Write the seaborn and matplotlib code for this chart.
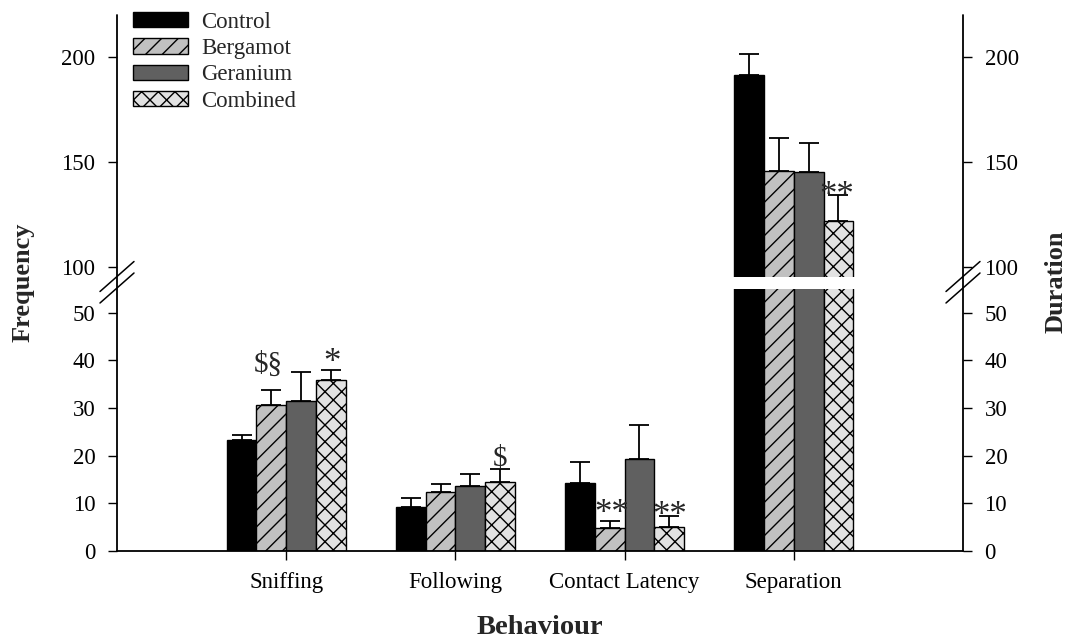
import numpy as np
import pandas as pd
import matplotlib
matplotlib.use("Agg")
import matplotlib.pyplot as plt
from matplotlib.lines import Line2D
from matplotlib.patches import Patch
import seaborn as sns

# ---- data -------------------------------------------------------------
behaviours = ["Sniffing", "Following", "Contact Latency", "Separation"]
treatments = ["Control", "Bergamot", "Geranium", "Combined"]

control_mean = [23.2, 9.3, 14.3, 191.3]
bergamot_mean = [30.7, 12.4, 4.9, 145.6]
geranium_mean = [31.5, 13.7, 19.3, 144.9]
combined_mean = [35.9, 14.4, 5.1, 121.6]

control_sem = [1.2, 1.9, 4.3, 10.0]
bergamot_sem = [3.1, 1.7, 1.5, 15.5]
geranium_sem = [6.0, 2.5, 7.2, 14.0]
combined_sem = [2.2, 2.8, 2.3, 12.7]

lower_ticks = [0, 10, 20, 30, 40, 50]
upper_ticks = [100, 150, 200]

# significance symbols: (behaviour, treatment, symbol)
sig_behaviour = ["Sniffing", "Sniffing", "Following", "Contact Latency",
                 "Contact Latency", "Separation"]
sig_treatment = ["Bergamot", "Combined", "Combined", "Bergamot",
                 "Combined", "Combined"]
sig_symbol = ["$§", "*", "$", "**", "**", "**"]

# ---- styling ----------------------------------------------------------
sns.set_style("white")
plt.rcParams["font.family"] = ["Liberation Serif", "DejaVu Serif"]
plt.rcParams["hatch.linewidth"] = 1.0
plt.rcParams["hatch.color"] = "black"

fills = ["#000000", "#c0c0c0", "#606060", "#e2e2e2"]
hatches = ["", "//", "", "xx"]
# offsets (points) of each significance symbol from its error-bar cap, and size
sig_dx = [-2.5, 0.5, 0.0, 1.5, 0.0, -1.5]
sig_dy = [13.0, -2.0, 2.0, -2.0, -7.0, -7.5]
sig_size = [21, 25, 21, 25, 25, 25]

TICK_FS = 16.5

W, H = 1071, 639
fig = plt.figure(figsize=(W / 100, H / 100), dpi=100)


def fx(px):
    return px / W


def fy(py):
    return 1 - py / H


left_px, right_px = 117, 963
ax_low = fig.add_axes([fx(left_px), fy(551), fx(right_px - left_px), fy(289) - fy(551)])
ax_up = fig.add_axes([fx(left_px), fy(277), fx(right_px - left_px), fy(15) - fy(277)])

means = [control_mean, bergamot_mean, geranium_mean, combined_mean]
sems = [control_sem, bergamot_sem, geranium_sem, combined_sem]

df = pd.DataFrame({
    "behaviour": np.tile(behaviours, len(treatments)),
    "treatment": np.repeat(treatments, len(behaviours)),
    "value": np.concatenate(means),
})

for ax in (ax_low, ax_up):
    sns.barplot(data=df, x="behaviour", y="value", hue="treatment",
                order=behaviours, hue_order=treatments,
                palette=dict(zip(treatments, fills)), saturation=1,
                width=0.704, edgecolor="black", linewidth=1.0,
                errorbar=None, legend=False, ax=ax)
    for cont, hatch, sem in zip(ax.containers, hatches, sems):
        xs, ys = [], []
        for bar in cont:
            bar.set_hatch(hatch)
            xs.append(bar.get_x() + bar.get_width() / 2)
            ys.append(bar.get_height())
        ax.errorbar(xs, ys, yerr=[np.zeros(len(sem)), sem], fmt="none",
                    ecolor="black", elinewidth=1.3, capsize=7, capthick=1.3,
                    zorder=3)
    ax.set_xlim(-1, 4)
    ax.set_xlabel("")
    ax.set_ylabel("")
    for sp in ax.spines.values():
        sp.set_visible(False)
    ax.tick_params(axis="y", left=True, right=True, labelleft=True,
                   labelright=True, direction="out", length=6.5, width=1.0,
                   pad=9, labelsize=TICK_FS, colors="black")

ax_low.set_ylim(0, 55)
ax_low.set_yticks(lower_ticks)
ax_low.spines["bottom"].set_visible(True)
ax_low.spines["bottom"].set_color("black")
ax_low.spines["bottom"].set_linewidth(1.3)
ax_low.tick_params(axis="x", bottom=True, direction="out", length=6.3,
                   width=1.0, pad=9, labelsize=TICK_FS, colors="black")

ax_up.set_ylim(95, 220)
ax_up.set_yticks(upper_ticks)
ax_up.tick_params(axis="x", bottom=False, labelbottom=False)
for tick in ax_up.yaxis.get_major_ticks():
    if tick.get_loc() == 100:
        tick.tick1line.set_visible(False)
        tick.tick2line.set_visible(False)

# significance symbols above the error bars
for b, t, s, dx, dy, fs in zip(sig_behaviour, sig_treatment, sig_symbol,
                               sig_dx, sig_dy, sig_size):
    ti, bi = treatments.index(t), behaviours.index(b)
    top = means[ti][bi] + sems[ti][bi]
    ax = ax_up if top > 95 else ax_low
    bar = ax.containers[ti][bi]
    ax.annotate(s, (bar.get_x() + bar.get_width() / 2, top),
                xytext=(dx, dy), textcoords="offset points",
                ha="center", va="baseline", fontsize=fs, parse_math=False,
                zorder=4)

# continuous side axes and break marks
for xpx in (left_px, right_px):
    fig.add_artist(Line2D([fx(xpx), fx(xpx)], [fy(551), fy(15)],
                          color="black", lw=1.3))
    for ypx in (276.5, 288):
        fig.add_artist(Line2D([fx(xpx - 17), fx(xpx + 17)],
                              [fy(ypx + 15), fy(ypx - 15)],
                              color="black", lw=1.1))

# legend
handles = [Patch(facecolor=c, edgecolor="black", hatch=h, linewidth=1.0)
           for c, h in zip(fills, hatches)]
ax_up.legend(handles, treatments, loc="upper left",
             bbox_to_anchor=(fx(133 - left_px) / fx(right_px - left_px), 1.012),
             frameon=False, fontsize=TICK_FS, handlelength=2.4, handleheight=0.65,
             handletextpad=0.57, labelspacing=0.23, borderpad=0, borderaxespad=0)

fig.text(fx(23), fy(282), "Frequency", rotation=90, ha="center", va="center",
         fontsize=19, fontweight="bold")
fig.text(fx(1056), fy(282), "Duration", rotation=90, ha="center", va="center",
         fontsize=19, fontweight="bold")
fig.text(fx(540), fy(628), "Behaviour", ha="center", va="center",
         fontsize=20.5, fontweight="bold")

fig.savefig("out.png", dpi=100)
